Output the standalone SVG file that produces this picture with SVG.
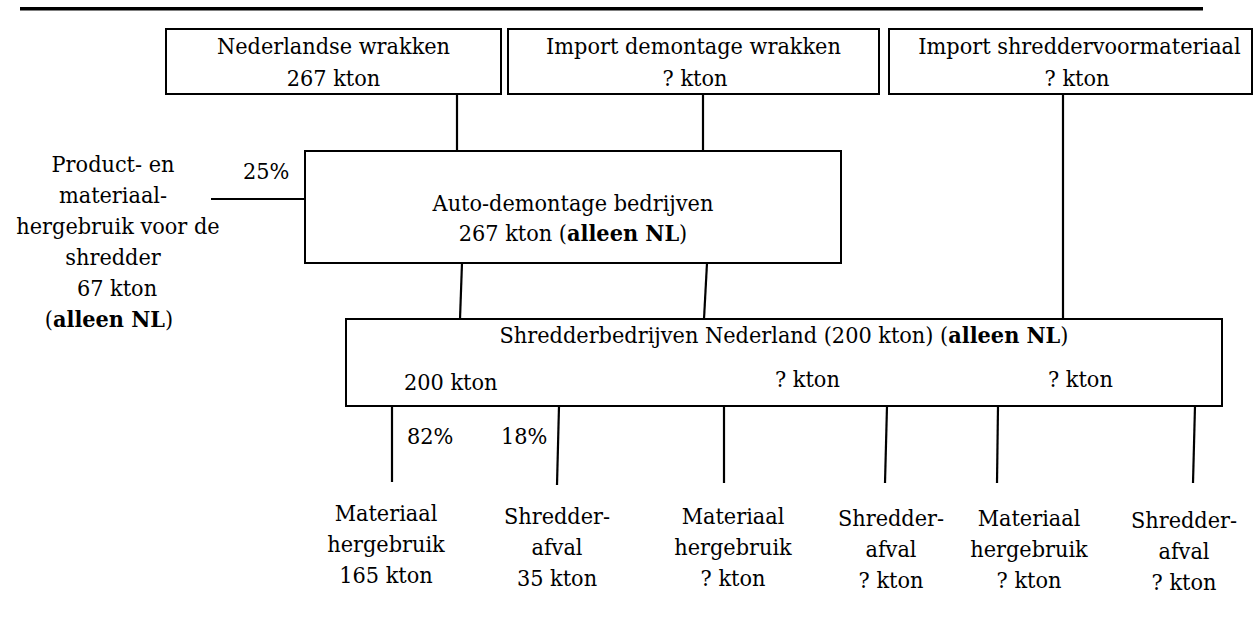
<svg xmlns="http://www.w3.org/2000/svg" width="1254" height="619" viewBox="0 0 1254 619">
<style>
text{font-family:'DejaVu Serif Condensed','DejaVu Serif','Liberation Serif',serif;font-stretch:condensed;font-size:23.2px;fill:#000}
.c{text-anchor:middle}
.b{font-weight:bold}
.box{fill:#fff;stroke:#000;stroke-width:2}
.ln{stroke:#000;stroke-width:2.2;fill:none}
</style>
<rect width="1254" height="619" fill="#fff"/>
<line x1="20" y1="8.8" x2="1203" y2="8.8" stroke="#000" stroke-width="3.6"/>
<g id="connectors">
<line class="ln" x1="457" y1="94" x2="457" y2="151"/>
<line class="ln" x1="703" y1="94" x2="703" y2="151"/>
<line class="ln" x1="1063" y1="94" x2="1063" y2="319"/>
<line class="ln" x1="211" y1="199" x2="305" y2="199"/>
<line class="ln" x1="462" y1="263" x2="460" y2="319"/>
<line class="ln" x1="707" y1="263" x2="704" y2="319"/>
<line class="ln" x1="392" y1="406" x2="392" y2="482"/>
<line class="ln" x1="559" y1="406" x2="557" y2="485"/>
<line class="ln" x1="724" y1="406" x2="724" y2="483"/>
<line class="ln" x1="887" y1="406" x2="885" y2="483"/>
<line class="ln" x1="998" y1="406" x2="997" y2="483"/>
<line class="ln" x1="1195" y1="406" x2="1193" y2="483"/>
</g>
<g id="nl-wrakken">
<rect class="box" x="166" y="29" width="335" height="65"/>
<text class="c" x="333.5" y="54">Nederlandse wrakken</text>
<text class="c" x="333.5" y="86">267 kton</text>
</g>
<g id="import-demontage">
<rect class="box" x="508" y="29" width="371" height="65"/>
<text class="c" x="693.5" y="54">Import demontage wrakken</text>
<text class="c" x="695" y="86">? kton</text>
</g>
<g id="import-shredder">
<rect class="box" x="889" y="29" width="363" height="65"/>
<text class="c" x="1079.5" y="54">Import shreddervoormateriaal</text>
<text class="c" x="1077" y="86">? kton</text>
</g>
<g id="auto-demontage">
<rect class="box" x="305" y="151" width="536" height="112"/>
<text class="c" x="573" y="211">Auto-demontage bedrijven</text>
<text class="c" x="573" y="241">267 kton (<tspan class="b">alleen NL</tspan>)</text>
</g>
<g id="hergebruik-voor-shredder">
<text class="c" x="113" y="172">Product- en</text>
<text class="c" x="113" y="203">materiaal-</text>
<text class="c" x="118" y="234">hergebruik voor de</text>
<text class="c" x="113" y="265">shredder</text>
<text class="c" x="117" y="296">67 kton</text>
<text class="c" x="109" y="327">(<tspan class="b">alleen NL</tspan>)</text>
<text x="243" y="179">25%</text>
</g>
<g id="shredderbedrijven">
<rect class="box" x="346" y="319" width="876" height="87"/>
<text class="c" x="784" y="343">Shredderbedrijven Nederland (200 kton) (<tspan class="b">alleen NL</tspan>)</text>
<text x="404" y="390">200 kton</text>
<text x="775" y="387">? kton</text>
<text x="1048" y="387">? kton</text>
</g>
<g id="pct">
<text x="407" y="444">82%</text>
<text x="501" y="444">18%</text>
</g>
<g id="out1">
<text class="c" x="386" y="521">Materiaal</text>
<text class="c" x="386" y="552">hergebruik</text>
<text class="c" x="386" y="583">165 kton</text>
</g>
<g id="out2">
<text class="c" x="557" y="524">Shredder-</text>
<text class="c" x="557" y="555">afval</text>
<text class="c" x="557" y="586">35 kton</text>
</g>
<g id="out3">
<text class="c" x="733" y="524">Materiaal</text>
<text class="c" x="733" y="555">hergebruik</text>
<text class="c" x="733" y="586">? kton</text>
</g>
<g id="out4">
<text class="c" x="891" y="526">Shredder-</text>
<text class="c" x="891" y="557">afval</text>
<text class="c" x="891" y="588">? kton</text>
</g>
<g id="out5">
<text class="c" x="1029" y="526">Materiaal</text>
<text class="c" x="1029" y="557">hergebruik</text>
<text class="c" x="1029" y="588">? kton</text>
</g>
<g id="out6">
<text class="c" x="1184" y="528">Shredder-</text>
<text class="c" x="1184" y="559">afval</text>
<text class="c" x="1184" y="590">? kton</text>
</g>
</svg>
